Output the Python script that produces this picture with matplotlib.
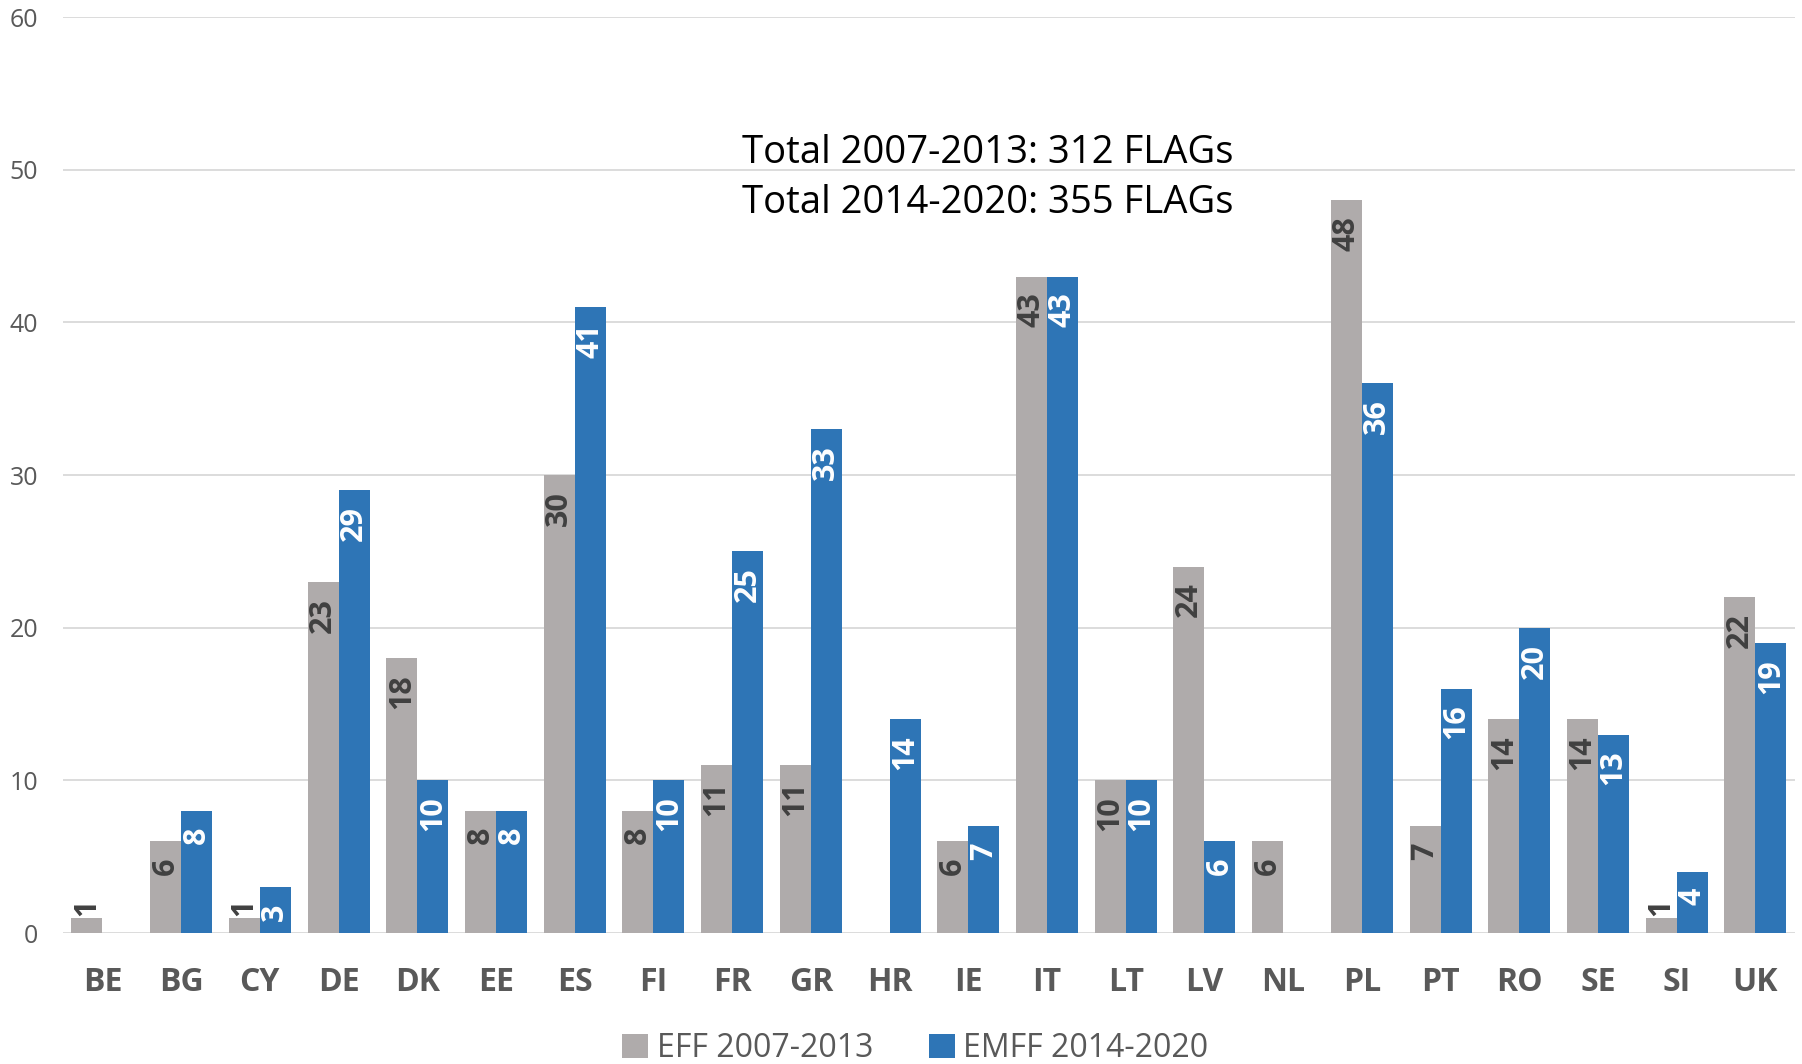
import matplotlib
matplotlib.use("Agg")
import matplotlib.pyplot as plt
import numpy as np

countries = ["BE", "BG", "CY", "DE", "DK", "EE", "ES", "FI", "FR", "GR", "HR",
             "IE", "IT", "LT", "LV", "NL", "PL", "PT", "RO", "SE", "SI", "UK"]
eff_2007_2013 = [1, 6, 1, 23, 18, 8, 30, 8, 11, 11, None, 6, 43, 10, 24, 6, 48, 7, 14, 14, 1, 22]
emff_2014_2020 = [None, 8, 3, 29, 10, 8, 41, 10, 25, 33, 14, 7, 43, 10, 6, None, 36, 16, 20, 13, 4, 19]
series_names = ["EFF 2007-2013", "EMFF 2014-2020"]
y_ticks = [0, 10, 20, 30, 40, 50, 60]
totals_text = ["Total 2007-2013: 312 FLAGs", "Total 2014-2020: 355 FLAGs"]

FONT = "Open Sans"
plt.rcParams["font.family"] = [FONT, "DejaVu Sans"]

GRAY = "#AFABAB"
BLUE = "#2E75B6"
TICK_C = "#595959"

fig = plt.figure(figsize=(18.02, 10.64), dpi=100)
ax = fig.add_axes([0.035, 0.1231, 0.961, 0.8609])

x = np.arange(len(countries))
w = 0.394

def clean(v):
    return np.array([np.nan if a is None else a for a in v], dtype=float)

eff = clean(eff_2007_2013)
emff = clean(emff_2014_2020)

b1 = ax.bar(x - w / 2, eff, width=w, color=GRAY, label=series_names[0], zorder=2)
b2 = ax.bar(x + w / 2, emff, width=w, color=BLUE, label=series_names[1], zorder=2)

for xs, vals, col in ((x - w / 2, eff, "#404040"), (x + w / 2, emff, "white")):
    for xi, v in zip(xs, vals):
        if np.isnan(v):
            continue
        if v < 2:
            ax.annotate(f"{int(v)}", xy=(xi, v), xytext=(0, 1.5), textcoords="offset points",
                        rotation=90, ha="center", va="bottom", fontsize=22, fontweight="bold",
                        color="#404040", zorder=3)
        else:
            ax.annotate(f"{int(v)}", xy=(xi, v), xytext=(0, -11.5), textcoords="offset points",
                        rotation=90, ha="center", va="top", fontsize=22, fontweight="bold",
                        color=col, zorder=3)

ax.set_xlim(-0.5, len(countries) - 0.5)
ax.set_ylim(0, 60)
ax.set_yticks(y_ticks)
ax.set_yticklabels([str(t) for t in y_ticks])
ax.set_xticks(x)
ax.set_xticklabels(countries)
ax.tick_params(axis="x", length=0, pad=24, labelsize=23, labelcolor=TICK_C)
for lbl in ax.get_xticklabels():
    lbl.set_fontweight("bold")
ax.tick_params(axis="y", length=0, pad=18, labelsize=18, labelcolor=TICK_C)
for s in ax.spines.values():
    s.set_visible(False)
ax.grid(axis="y", color="#D9D9D9", linewidth=1.3, zorder=0)
ax.set_axisbelow(True)

fig.text(0.548, 0.8468, totals_text[0], ha="center", va="baseline", fontsize=27.5, color="black")
fig.text(0.548, 0.7998, totals_text[1], ha="center", va="baseline", fontsize=27.5, color="black")

leg = fig.legend(handles=[b1, b2], labels=series_names, loc="center",
                 bbox_to_anchor=(0.508, 0.0145), ncol=2, frameon=False,
                 fontsize=23, handlelength=0.8, handleheight=0.8,
                 handletextpad=0.28, columnspacing=1.75, borderpad=0, borderaxespad=0)
for t in leg.get_texts():
    t.set_color(TICK_C)

fig.savefig("out.png", dpi=100)
